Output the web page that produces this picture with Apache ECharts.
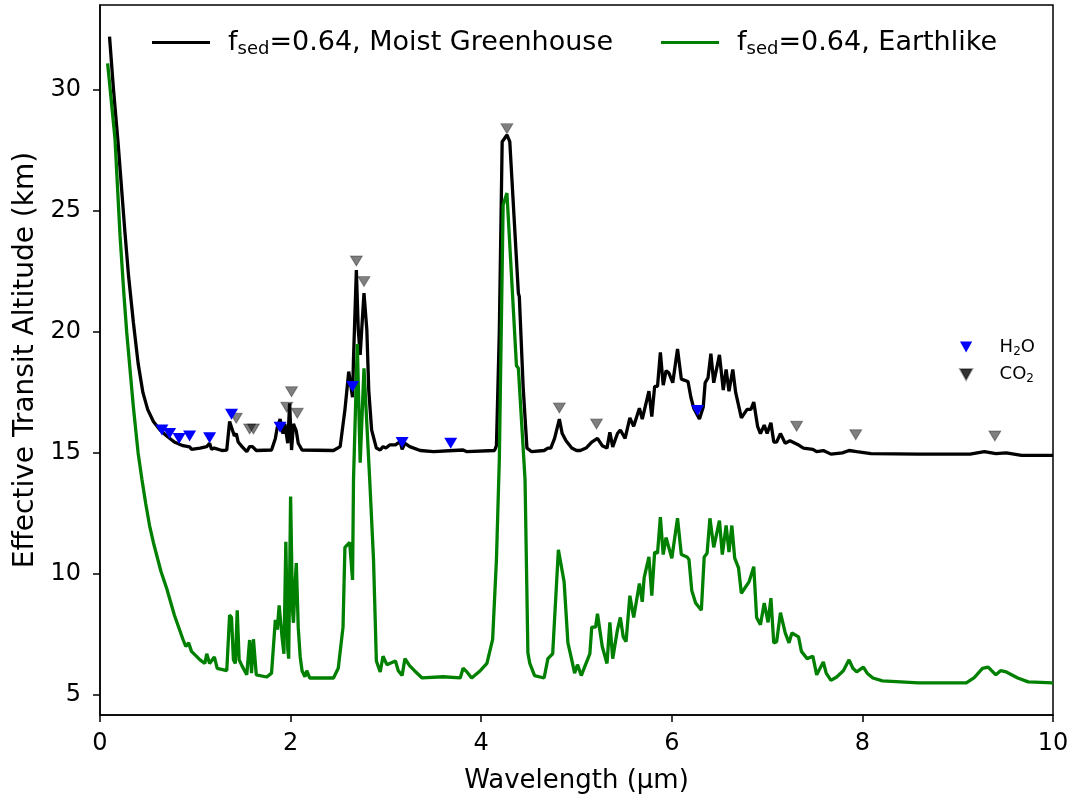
<!DOCTYPE html>
<html>
<head>
<meta charset="utf-8">
<script src="https://cdn.jsdelivr.net/npm/echarts@6/dist/echarts.min.js"></script>
<style>
  html, body { margin: 0; padding: 0; background: #fff; }
  #chart { width: 1074px; height: 802px; }
</style>
</head>
<body>
<div id="chart"></div>
<script>
// Moist Greenhouse spectrum (black)
var mgWave = [0.10, 0.14, 0.19, 0.26, 0.30, 0.35, 0.40, 0.45, 0.50, 0.56, 0.63, 0.70, 0.78, 0.87, 0.94, 0.96,
  1.05, 1.12, 1.15, 1.17, 1.20, 1.28, 1.33, 1.36, 1.38, 1.41, 1.43, 1.45, 1.49, 1.54, 1.57, 1.60, 1.64,
  1.80, 1.84, 1.86, 1.89, 1.92, 1.94, 1.97, 1.99, 2.01, 2.03, 2.06, 2.08, 2.12, 2.45, 2.52, 2.57, 2.61,
  2.63, 2.65, 2.66, 2.69, 2.71, 2.73, 2.77, 2.80, 2.82, 2.85, 2.90, 2.94, 2.97, 3.00, 3.04, 3.10, 3.15,
  3.17, 3.20, 3.25, 3.36, 3.50, 3.71, 3.81, 3.85, 4.14, 4.16, 4.19, 4.22, 4.27, 4.30, 4.39, 4.40, 4.44,
  4.48, 4.53, 4.66, 4.70, 4.73, 4.77, 4.82, 4.85, 4.89, 4.95, 5.00, 5.04, 5.10, 5.16, 5.22, 5.27, 5.32,
  5.35, 5.38, 5.43, 5.46, 5.51, 5.56, 5.60, 5.66, 5.69, 5.76, 5.79, 5.82, 5.85, 5.88, 5.91, 5.94, 5.97,
  6.01, 6.06, 6.10, 6.17, 6.20, 6.23, 6.29, 6.33, 6.35, 6.38, 6.41, 6.44, 6.50, 6.54, 6.57, 6.60, 6.64,
  6.67, 6.73, 6.79, 6.83, 6.86, 6.90, 6.93, 6.97, 7.00, 7.04, 7.07, 7.10, 7.14, 7.19, 7.24, 7.32, 7.38,
  7.48, 7.52, 7.59, 7.67, 7.79, 7.86, 7.94, 8.09, 8.59, 9.13, 9.28, 9.40, 9.51, 9.67, 10.0];
var mgAlt = [32.2, 30.1, 27.8, 24.2, 22.3, 20.4, 18.7, 17.5, 16.8, 16.3, 15.95, 15.7, 15.45, 15.3, 15.25, 15.15,
  15.2, 15.26, 15.4, 15.15, 15.2, 15.1, 15.12, 16.3, 16.35, 15.7, 15.8, 15.45, 15.26, 15.05, 15.26, 15.26, 15.1,
  15.12, 15.6, 16.05, 16.4, 15.8, 16.2, 15.4, 17.05, 15.12, 16.2, 15.9, 15.4, 15.12, 15.1, 15.26, 16.78, 18.36,
  18.4, 17.3, 18.9, 22.56, 20.08, 19.05, 21.6, 20.08, 17.6, 15.95, 15.2, 15.12, 15.26, 15.2, 15.33, 15.33, 15.47,
  15.15, 15.4, 15.26, 15.1, 15.05, 15.1, 15.12, 15.05, 15.1, 15.3, 20.0, 27.86, 28.14, 27.86, 21.6, 21.46, 17.74,
  15.2, 15.05, 15.1, 15.2, 15.2, 15.6, 16.4, 15.8, 15.5, 15.2, 15.1, 15.1, 15.2, 15.45, 15.6, 15.3, 15.2,
  15.85, 15.25, 15.8, 15.95, 15.6, 16.45, 16.1, 16.85, 16.4, 17.55, 16.5, 17.75, 17.75, 19.15, 17.8, 18.4, 18.3,
  17.9, 19.3, 18.05, 17.95, 17.3, 16.85, 16.4, 16.9, 17.9, 18.1, 19.1, 17.9, 19.05, 17.6, 18.45, 17.55, 18.45,
  17.5, 16.45, 16.8, 16.8, 17.1, 16.1, 15.8, 16.15, 15.8, 16.25, 15.45, 15.45, 15.8, 15.4, 15.5, 15.35, 15.2,
  15.15, 15.05, 15.1, 14.95, 15.0, 15.1, 15.05, 14.97, 14.95, 14.95, 15.05, 14.97, 15.0, 14.9, 14.9];

// Earthlike spectrum (green)
var elWave = [0.08, 0.157, 0.21, 0.25, 0.28, 0.35, 0.40, 0.44, 0.48, 0.52, 0.56, 0.64, 0.70, 0.78, 0.87, 0.90, 0.93, 0.96,
  1.05, 1.10, 1.12, 1.15, 1.20, 1.23, 1.33, 1.36, 1.38, 1.40, 1.42, 1.44, 1.46, 1.49, 1.54, 1.57, 1.59,
  1.61, 1.64, 1.75, 1.80, 1.84, 1.86, 1.88, 1.91, 1.93, 1.95, 1.97, 1.98, 2.00, 2.02, 2.03, 2.05, 2.06,
  2.08, 2.10, 2.12, 2.15, 2.17, 2.20, 2.45, 2.50, 2.55, 2.57, 2.62, 2.65, 2.66, 2.70, 2.73, 2.77, 2.83,
  2.87, 2.90, 2.94, 2.97, 3.01, 3.10, 3.13, 3.17, 3.20, 3.25, 3.30, 3.38, 3.60, 3.78, 3.81, 3.85, 3.90,
  3.99, 4.06, 4.12, 4.16, 4.19, 4.23, 4.27, 4.37, 4.39, 4.46, 4.49, 4.51, 4.56, 4.66, 4.70, 4.75, 4.81,
  4.87, 4.91, 4.95, 4.98, 5.01, 5.05, 5.10, 5.14, 5.16, 5.20, 5.22, 5.27, 5.32, 5.35, 5.38, 5.43, 5.46,
  5.49, 5.52, 5.56, 5.60, 5.66, 5.69, 5.71, 5.76, 5.79, 5.82, 5.85, 5.88, 5.91, 5.94, 6.00, 6.06, 6.10,
  6.16, 6.18, 6.21, 6.25, 6.31, 6.34, 6.37, 6.40, 6.44, 6.50, 6.53, 6.57, 6.60, 6.63, 6.66, 6.70, 6.73,
  6.81, 6.86, 6.89, 6.93, 6.97, 7.01, 7.04, 7.07, 7.10, 7.14, 7.19, 7.23, 7.26, 7.33, 7.36, 7.42, 7.48,
  7.52, 7.59, 7.62, 7.67, 7.73, 7.80, 7.86, 7.90, 7.94, 8.01, 8.05, 8.11, 8.21, 8.40, 8.59, 9.09, 9.17,
  9.26, 9.32, 9.40, 9.45, 9.51, 9.63, 9.74, 10.0];
var elAlt = [31.1, 28.0, 24.0, 21.6, 20.0, 16.9, 15.0, 13.9, 12.9, 12.0, 11.3, 10.1, 9.4, 8.3, 7.3, 7.0, 7.15, 6.8,
  6.45, 6.3, 6.7, 6.3, 6.57, 6.1, 6.0, 8.3, 8.2, 6.45, 6.3, 8.5, 6.45, 6.2, 5.83, 7.27, 5.9,
  7.3, 5.83, 5.74, 5.9, 8.1, 7.7, 8.7, 7.4, 6.7, 11.33, 6.9, 6.5, 13.2, 8.5, 7.98, 9.8, 10.45,
  7.8, 6.6, 6.0, 5.75, 6.0, 5.7, 5.7, 6.1, 7.8, 11.1, 11.3, 9.75, 13.9, 19.5, 14.6, 18.5, 13.9,
  10.6, 6.4, 5.95, 6.6, 6.25, 6.4, 6.0, 5.8, 6.5, 6.2, 6.0, 5.7, 5.75, 5.7, 6.1, 5.95, 5.7,
  6.0, 6.3, 7.3, 10.6, 14.7, 25.25, 25.74, 18.6, 18.5, 13.9, 6.74, 6.3, 5.8, 5.7, 6.5, 6.7, 11.0,
  9.67, 7.15, 6.45, 5.9, 6.25, 5.8, 6.3, 6.7, 7.8, 7.8, 8.35, 7.0, 6.3, 8.0, 6.5, 7.7, 8.2,
  7.4, 7.2, 9.1, 8.2, 9.6, 8.85, 9.85, 10.7, 9.1, 10.9, 10.85, 12.35, 10.8, 11.5, 10.65, 12.3, 10.8,
  10.7, 10.6, 9.3, 8.8, 8.5, 10.7, 10.85, 12.3, 11.1, 12.2, 10.8, 12.0, 10.9, 12.0, 10.65, 10.25, 9.2,
  9.67, 10.3, 8.2, 7.9, 8.8, 8.0, 9.0, 7.15, 7.2, 8.4, 7.56, 7.15, 7.56, 7.4, 6.8, 6.5, 6.6,
  5.83, 6.36, 5.9, 5.6, 5.74, 6.0, 6.45, 6.1, 5.95, 6.15, 5.9, 5.7, 5.58, 5.54, 5.5, 5.5, 5.7,
  6.1, 6.15, 5.83, 6.0, 5.95, 5.7, 5.54, 5.5];

// feature markers
var h2oWave = [0.65, 0.73, 0.83, 0.94, 1.15, 1.38, 1.89, 2.65, 3.17, 3.68, 6.27];
var h2oAlt = [15.95, 15.8, 15.6, 15.7, 15.63, 16.6, 16.06, 17.74, 15.43, 15.4, 16.75];
var co2Wave = [1.43, 1.57, 1.61, 1.96, 2.01, 2.07, 2.69, 2.77, 4.27, 4.82, 5.21, 7.31, 7.93, 9.39];
var co2Alt = [16.43, 15.99, 15.99, 16.89, 17.53, 16.64, 22.93, 22.08, 28.4, 16.86, 16.2, 16.1, 15.75, 15.7];

var yTicks = [5, 10, 15, 20, 25, 30];

function pairs(xs, ys) {
  return xs.map(function (x, i) { return [x, ys[i]]; });
}

var FONT = 'DejaVu Sans';
var downTri = 'path://M0,0L10,0L5,9Z';

var chart = echarts.init(document.getElementById('chart'));
var option = {
  animation: false,
  textStyle: { fontFamily: FONT, color: '#000' },
  grid: {
    left: 100, right: 21, top: 5, bottom: 87,
    show: true, borderColor: '#000', borderWidth: 1.5
  },
  legend: [
    {
      data: [
        { name: 'Moist Greenhouse', icon: 'rect' },
        { name: 'Earthlike', icon: 'rect' }
      ],
      top: 24, left: 147,
      itemWidth: 58, itemHeight: 3, itemGap: 48,
      formatter: function (name) {
        return '{t|f}{s|sed}{t|=0.64, ' + name + '}';
      },
      textStyle: {
        color: '#000',
        padding: [0, 0, 0, 13],
        rich: {
          t: { fontSize: 27, fontFamily: FONT, color: '#000' },
          s: { fontSize: 18, fontFamily: FONT, color: '#000', padding: [13, 0, 0, 0] }
        }
      }
    },
    {
      data: [
        { name: 'H2O', icon: downTri, itemStyle: { color: '#0000ff' } },
        { name: 'CO2', icon: downTri, itemStyle: { color: '#333333' } }
      ],
      orient: 'vertical',
      left: 954, top: 333,
      itemWidth: 13, itemHeight: 11, itemGap: 8,
      formatter: function (name) {
        return '{t|' + name.charAt(0) + (name.charAt(0) === 'C' ? 'O' : '') + '}{s|2}{t|' +
          (name.charAt(0) === 'H' ? 'O' : '') + '}';
      },
      textStyle: {
        color: '#000',
        padding: [0, 0, 0, 22],
        rich: {
          t: { fontSize: 18, fontFamily: FONT, color: '#000' },
          s: { fontSize: 12, fontFamily: FONT, color: '#000', padding: [9, 0, 0, 0] }
        }
      }
    }
  ],
  xAxis: {
    type: 'value', min: 0, max: 10, interval: 2,
    name: 'Wavelength (μm)', nameLocation: 'middle', nameGap: 53,
    nameTextStyle: { fontSize: 26, color: '#000', fontFamily: FONT },
    axisLine: { lineStyle: { color: '#000', width: 1.5 } },
    axisTick: { inside: false, length: 7, lineStyle: { color: '#000', width: 1.5 } },
    axisLabel: { fontSize: 24, color: '#000', margin: 17, fontFamily: FONT },
    splitLine: { show: false }
  },
  yAxis: {
    type: 'value', min: 4.17, max: 33.51,
    name: 'Effective Transit Altitude (km)', nameLocation: 'middle', nameGap: 59,
    nameTextStyle: { fontSize: 28, color: '#000', fontFamily: FONT },
    axisLine: { lineStyle: { color: '#000', width: 1.5 } },
    axisTick: { inside: false, length: 7, customValues: yTicks, lineStyle: { color: '#000', width: 1.5 } },
    axisLabel: { fontSize: 24, color: '#000', margin: 19, customValues: yTicks, fontFamily: FONT },
    splitLine: { show: false }
  },
  series: [
    {
      name: 'Moist Greenhouse', type: 'line', data: pairs(mgWave, mgAlt),
      showSymbol: false, color: '#000', lineStyle: { color: '#000', width: 3.3 }, z: 2
    },
    {
      name: 'Earthlike', type: 'line', data: pairs(elWave, elAlt),
      showSymbol: false, color: '#008000', lineStyle: { color: '#008000', width: 3.3 }, z: 3
    },
    {
      name: 'H2O', type: 'scatter', data: pairs(h2oWave, h2oAlt),
      symbol: downTri, symbolSize: [13, 11],
      itemStyle: { color: '#0000ff', opacity: 1 }, z: 5
    },
    {
      name: 'CO2', type: 'scatter', data: pairs(co2Wave, co2Alt),
      symbol: downTri, symbolSize: [12, 10],
      itemStyle: { color: 'rgba(0,0,0,0.5)', borderColor: 'rgba(0,0,0,0.35)', borderWidth: 1, opacity: 1 }, z: 4
    }
  ]
};
chart.setOption(option);
</script>
</body>
</html>
